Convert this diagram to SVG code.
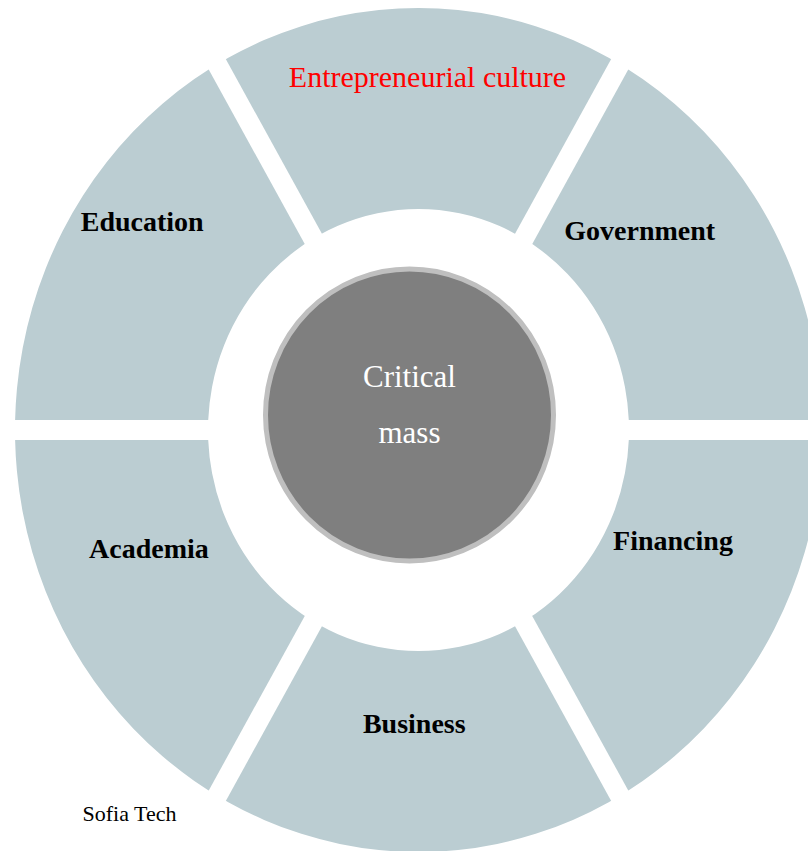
<svg xmlns="http://www.w3.org/2000/svg" xmlns:xlink="http://www.w3.org/1999/xlink" width="808" height="851" viewBox="0 0 808 851">
  <style>
    .seg { fill: #BBCDD2; fill-rule: evenodd; }
    .lbl { font-family: "Liberation Serif", "DejaVu Serif", serif; font-size: 28px; font-weight: bold; fill: #000000; text-anchor: middle; }
    .red { font-family: "Liberation Serif", "DejaVu Serif", serif; font-size: 30px; fill: #FF0000; text-anchor: middle; }
    .core { font-family: "Liberation Serif", "DejaVu Serif", serif; font-size: 31px; fill: #FFFFFF; text-anchor: middle; }
    .note { font-family: "Liberation Serif", "DejaVu Serif", serif; font-size: 22px; fill: #000000; }
  </style>
  <defs>
    <path id="ring" d="M 15,430 A 403.5 422 0 1 0 822,430 A 403.5 422 0 1 0 15,430 Z M 208,430 A 210.5 221 0 1 0 629,430 A 210.5 221 0 1 0 208,430 Z"/>
    <clipPath id="c-top"><polygon points="418.5,409.25 900.5,-466.75 -63.5,-466.75"/></clipPath>
    <clipPath id="c-bottom"><polygon points="418.5,450.75 900.5,1326.75 -63.5,1326.75"/></clipPath>
    <clipPath id="c-ur"><polygon points="435.41,420 1435.41,420 1435.41,-456 917.41,-456"/></clipPath>
    <clipPath id="c-lr"><polygon points="435.41,440 1435.41,440 1435.41,1316 917.41,1316"/></clipPath>
    <clipPath id="c-ul"><polygon points="401.59,420 -598.41,420 -598.41,-456 -80.41,-456"/></clipPath>
    <clipPath id="c-ll"><polygon points="401.59,440 -598.41,440 -598.41,1316 -80.41,1316"/></clipPath>
  </defs>
  <rect x="0" y="0" width="808" height="851" fill="#FFFFFF"/>

  <g id="connectors"></g>

  <g id="entrepreneurial-culture">
    <use xlink:href="#ring" href="#ring" class="seg" clip-path="url(#c-top)"/>
    <text class="red" x="427.5" y="87">Entrepreneurial culture</text>
  </g>
  <g id="government">
    <use xlink:href="#ring" href="#ring" class="seg" clip-path="url(#c-ur)"/>
    <text class="lbl" x="639.7" y="240">Government</text>
  </g>
  <g id="financing">
    <use xlink:href="#ring" href="#ring" class="seg" clip-path="url(#c-lr)"/>
    <text class="lbl" x="673" y="550">Financing</text>
  </g>
  <g id="business">
    <use xlink:href="#ring" href="#ring" class="seg" clip-path="url(#c-bottom)"/>
    <text class="lbl" x="414.3" y="733">Business</text>
  </g>
  <g id="academia">
    <use xlink:href="#ring" href="#ring" class="seg" clip-path="url(#c-ll)"/>
    <text class="lbl" x="149" y="558">Academia</text>
  </g>
  <g id="education">
    <use xlink:href="#ring" href="#ring" class="seg" clip-path="url(#c-ul)"/>
    <text class="lbl" x="142.2" y="231">Education</text>
  </g>

  <g id="critical-mass">
    <ellipse cx="409.5" cy="415" rx="144" ry="146" fill="#7F7F7F" stroke="#BFBFBF" stroke-width="5"/>
    <text class="core" x="409.5" y="387">Critical</text>
    <text class="core" x="409.5" y="443">mass</text>
  </g>

  <g id="caption">
    <text class="note" x="82.5" y="821">Sofia Tech</text>
  </g>
</svg>
